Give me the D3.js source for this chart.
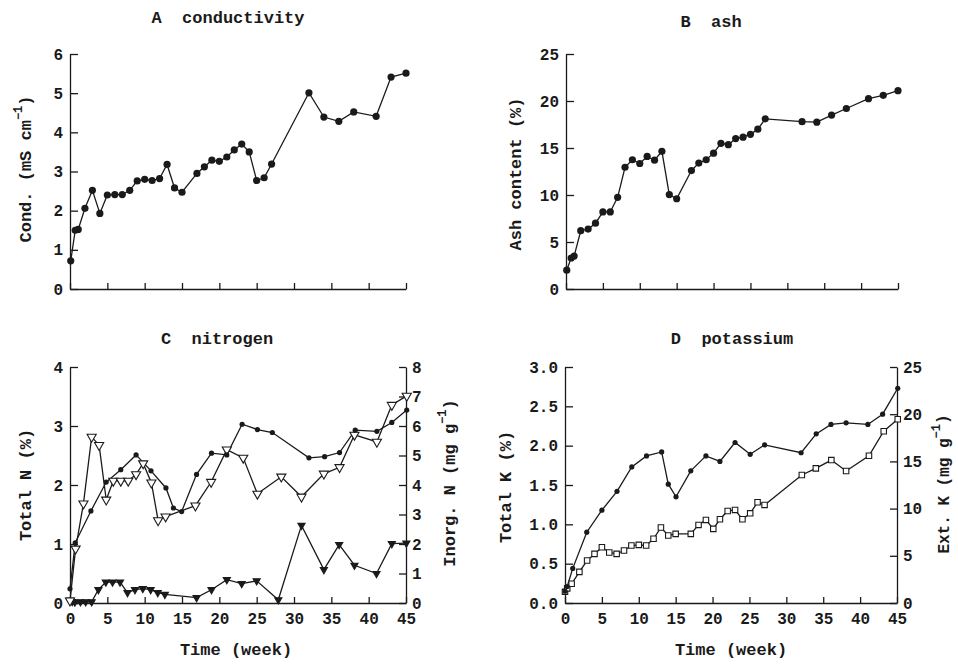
<!DOCTYPE html>
<html><head><meta charset="utf-8">
<script src="https://cdn.jsdelivr.net/npm/d3@7"></script>
<style>
body{margin:0;background:#fff;}
svg text{font-family:"Liberation Mono","DejaVu Sans Mono",monospace;fill:#1a1a1a;}
</style></head>
<body><svg id="chart" width="958" height="665"></svg>
<script>
// ---------- DATA ----------
const weekTicks = [0,5,10,15,20,25,30,35,40,45];

const condWeek = [0.1,0.7,1.1,2,3,4,5,6,7,8,9,10,11,12,13,14,15,17,18,19,20,21,22,23,24,25,26,27,32,34,36,38,41,43,45];
const condVal  = [0.72,1.5,1.52,2.06,2.52,1.93,2.4,2.41,2.41,2.52,2.76,2.8,2.77,2.82,3.18,2.58,2.47,2.95,3.12,3.29,3.26,3.37,3.55,3.7,3.5,2.77,2.84,3.19,5.01,4.39,4.28,4.52,4.41,5.41,5.51];

const ashWeek = [0.1,0.7,1.1,2,3,4,5,6,7,8,9,10,11,12,13,14,15,17,18,19,20,21,22,23,24,25,26,27,32,34,36,38,41,43,45];
const ashVal  = [2.0,3.3,3.5,6.2,6.37,7.0,8.2,8.2,9.75,12.95,13.75,13.35,14.1,13.7,14.65,10.05,9.6,12.6,13.4,13.75,14.45,15.5,15.35,16.0,16.15,16.45,17.0,18.1,17.8,17.75,18.5,19.2,20.25,20.6,21.1];

const totNWeek = [0,0.7,2.8,4.85,6.8,8.85,10.85,12.85,13.85,14.95,16.95,18.95,21,23.05,25.1,27.1,32,34.1,36.1,38.2,41.1,43.1,45.1];
const totNVal  = [0.24,1.02,1.56,2.05,2.26,2.51,2.24,1.95,1.61,1.55,2.18,2.54,2.51,3.03,2.94,2.89,2.46,2.48,2.55,2.93,2.91,3.06,3.27];

const inorgAWeek = [0,0.75,1.8,2.9,3.9,4.85,5.8,6.8,7.8,8.85,9.8,10.9,11.8,12.8,16.8,18.9,21,23.2,25.1,28.3,31,34,36.1,38.1,41.1,43.1,45.1];
const inorgAVal  = [0.08,1.84,3.37,5.63,5.35,3.5,4.14,4.14,4.14,4.36,4.73,4.08,2.8,2.93,3.3,4.1,5.2,4.92,3.7,4.28,3.6,4.38,4.6,5.7,5.46,6.71,7.02];

const inorgBWeek = [0,0.3,0.65,1.4,2.1,2.9,3.8,4.8,5.7,6.7,7.7,8.7,9.75,10.8,11.75,12.7,16.95,18.95,21,23,25,27.9,31,34,36.05,38.1,41.05,43.1,45.05];
const inorgBVal  = [0.1,0.05,0.03,0.04,0.04,0.04,0.45,0.71,0.71,0.71,0.35,0.45,0.49,0.45,0.35,0.29,0.18,0.45,0.79,0.66,0.75,0.11,2.63,1.13,1.98,1.28,1.0,2.01,2.03];

const totKWeek = [0,0.3,1.05,2.95,5,7.05,9.05,11.05,13.1,14,15.05,17.05,19.1,21,23.05,25.1,27.05,32,34.05,36.05,38.1,41.05,43.05,45.1];
const totKVal  = [0.15,0.21,0.44,0.9,1.18,1.42,1.73,1.87,1.92,1.51,1.35,1.68,1.87,1.8,2.04,1.89,2.01,1.91,2.15,2.27,2.29,2.27,2.4,2.73];

const extKWeek = [0,0.3,0.9,1.95,3,4,5,6,7,8,9,10,11,12,13,14,15,17.05,18.1,19.1,20.1,21,22.05,23.05,24.05,25.1,26.1,27.05,32.1,34,36.1,38.1,41.2,43.2,45.1];
const extKVal  = [1.2,1.55,2.04,3.3,4.5,5.2,5.9,5.35,5.2,5.56,6.09,6.16,6.09,6.8,8.0,7.15,7.32,7.32,8.27,8.8,7.85,8.87,9.75,9.86,8.87,9.5,10.67,10.39,13.56,14.26,15.14,13.98,15.6,18.2,19.47];

const zip = (w,v) => w.map((d,i)=>({x:d,y:v[i]}));

// ---------- DRAWING ----------
const svg = d3.select("#chart");
const INK = "#1a1a1a";
const TICKFONT = 16, LABFONT = 17;

function styleAxis(g){
  g.selectAll("path.domain").attr("stroke",INK).attr("stroke-width",1.3);
  g.selectAll(".tick line").attr("stroke",INK).attr("stroke-width",1.3);
  g.selectAll(".tick text").attr("font-size",TICKFONT).attr("font-family",null).attr("fill",INK).attr("font-weight","bold");
  g.attr("font-family",null);
}

function panel(o){
  const x = d3.scaleLinear().domain([0,45]).range([o.x0,o.x1]);
  const yL = d3.scaleLinear().domain(o.yDom).range([o.yb,o.yt]);
  const g = svg.append("g");
  const gx = g.append("g").attr("transform",`translate(0,${o.yb})`)
    .call(d3.axisBottom(x).tickValues(weekTicks).tickSize(-6).tickSizeOuter(0).tickPadding(10)
      .tickFormat(o.xLabels ? d3.format("d") : ""));
  styleAxis(gx);
  const gy = g.append("g").attr("transform",`translate(${o.x0},0)`)
    .call(d3.axisLeft(yL).tickValues(o.yTicks).tickSize(-8).tickSizeOuter(0).tickPadding(7).tickFormat(o.yFmt));
  styleAxis(gy);
  let yR = null;
  if(o.yRDom){
    yR = d3.scaleLinear().domain(o.yRDom).range([o.yb,o.yt]);
    const gr = g.append("g").attr("transform",`translate(${o.x1},0)`)
      .call(d3.axisRight(yR).tickValues(o.yRTicks).tickSize(-7).tickSizeOuter(0).tickPadding(6).tickFormat(d3.format("d")));
    styleAxis(gr);
  }
  g.append("text").attr("x",o.titleX).attr("y",o.titleY).attr("text-anchor","middle")
    .attr("font-size",LABFONT).attr("font-weight","bold").style("white-space","pre").text(o.title);
  return {g,x,yL,yR};
}

function rotLabel(cx,cy,parts,fs){
  const t = svg.append("text").attr("transform",`translate(${cx},${cy}) rotate(-90)`)
    .attr("text-anchor","middle").attr("dy","0.35em").attr("font-size",fs||LABFONT).attr("font-weight","bold")
    .style("white-space","pre");
  parts.forEach(p=>{
    const s = t.append("tspan").text(p.t);
    if(p.sup){ s.attr("font-size",12).attr("dy","-0.75em"); }
    if(p.after){ s.attr("dy","0.55em"); }
  });
}

function line(g,x,y,data){
  g.append("path").datum(data).attr("fill","none").attr("stroke",INK).attr("stroke-width",1.3)
    .attr("d",d3.line().x(d=>x(d.x)).y(d=>y(d.y)));
}
function dots(g,x,y,data,r){
  g.selectAll(null).data(data).enter().append("circle")
    .attr("cx",d=>x(d.x)).attr("cy",d=>y(d.y)).attr("r",r).attr("fill",INK);
}
function syms(g,x,y,data,type,size,fill,rot){
  g.selectAll(null).data(data).enter().append("path")
    .attr("d",d3.symbol().type(type).size(size)())
    .attr("transform",d=>`translate(${x(d.x)},${y(d.y)}) rotate(${rot})`)
    .attr("fill",fill).attr("stroke",INK).attr("stroke-width",1.1);
}

// Panel A
const A = panel({x0:70,x1:406,yb:289,yt:54,yDom:[0,6],yTicks:[0,1,2,3,4,5,6],yFmt:d3.format("d"),
  xLabels:false,title:"A  conductivity",titleX:228,titleY:23});
const condData = zip(condWeek,condVal);
line(A.g,A.x,A.yL,condData); dots(A.g,A.x,A.yL,condData,3.6);
rotLabel(25,169,[{t:"Cond. (mS cm"},{t:"−1",sup:true},{t:")",after:true}]);

// Panel B
const B = panel({x0:566,x1:898,yb:289,yt:54,yDom:[0,25],yTicks:[0,5,10,15,20,25],yFmt:d3.format("d"),
  xLabels:false,title:"B  ash",titleX:711,titleY:27});
const ashData = zip(ashWeek,ashVal);
line(B.g,B.x,B.yL,ashData); dots(B.g,B.x,B.yL,ashData,3.6);
rotLabel(515,174,[{t:"Ash content (%)"}]);

// Panel C
const C = panel({x0:70,x1:406,yb:603,yt:367,yDom:[0,4],yTicks:[0,1,2,3,4],yFmt:d3.format("d"),
  yRDom:[0,8],yRTicks:[0,1,2,3,4,5,6,7,8],
  xLabels:true,title:"C  nitrogen",titleX:217,titleY:344});
const nA = zip(inorgAWeek,inorgAVal), nB = zip(inorgBWeek,inorgBVal), nT = zip(totNWeek,totNVal);
line(C.g,C.x,C.yR,nB); line(C.g,C.x,C.yR,nA); line(C.g,C.x,C.yL,nT);
syms(C.g,C.x,C.yR,nB,d3.symbolTriangle,22,INK,180);
syms(C.g,C.x,C.yR,nA,d3.symbolTriangle,36,"#fff",180);
dots(C.g,C.x,C.yL,nT,2.6);
rotLabel(25,485,[{t:"Total N (%)"}]);
rotLabel(449,483,[{t:"Inorg. N (mg g"},{t:"−1",sup:true},{t:")",after:true}]);
svg.append("text").attr("x",236).attr("y",655).attr("text-anchor","middle").attr("font-size",LABFONT)
  .attr("font-weight","bold").text("Time (week)");

// Panel D
const D = panel({x0:565,x1:897,yb:603,yt:367,yDom:[0,3],yTicks:[0,0.5,1,1.5,2,2.5,3],yFmt:d3.format(".1f"),
  yRDom:[0,25],yRTicks:[0,5,10,15,20,25],
  xLabels:true,title:"D  potassium",titleX:732,titleY:344});
const kE = zip(extKWeek,extKVal), kT = zip(totKWeek,totKVal);
line(D.g,D.x,D.yR,kE); line(D.g,D.x,D.yL,kT);
syms(D.g,D.x,D.yR,kE,d3.symbolSquare,30,"#fff",0);
dots(D.g,D.x,D.yL,kT,2.6);
rotLabel(505,487,[{t:"Total K (%)"}]);
rotLabel(943,484,[{t:"Ext. K (mg g"},{t:"−1",sup:true},{t:")",after:true}],16);
svg.append("text").attr("x",731).attr("y",655).attr("text-anchor","middle").attr("font-size",LABFONT)
  .attr("font-weight","bold").text("Time (week)");
</script></body></html>
